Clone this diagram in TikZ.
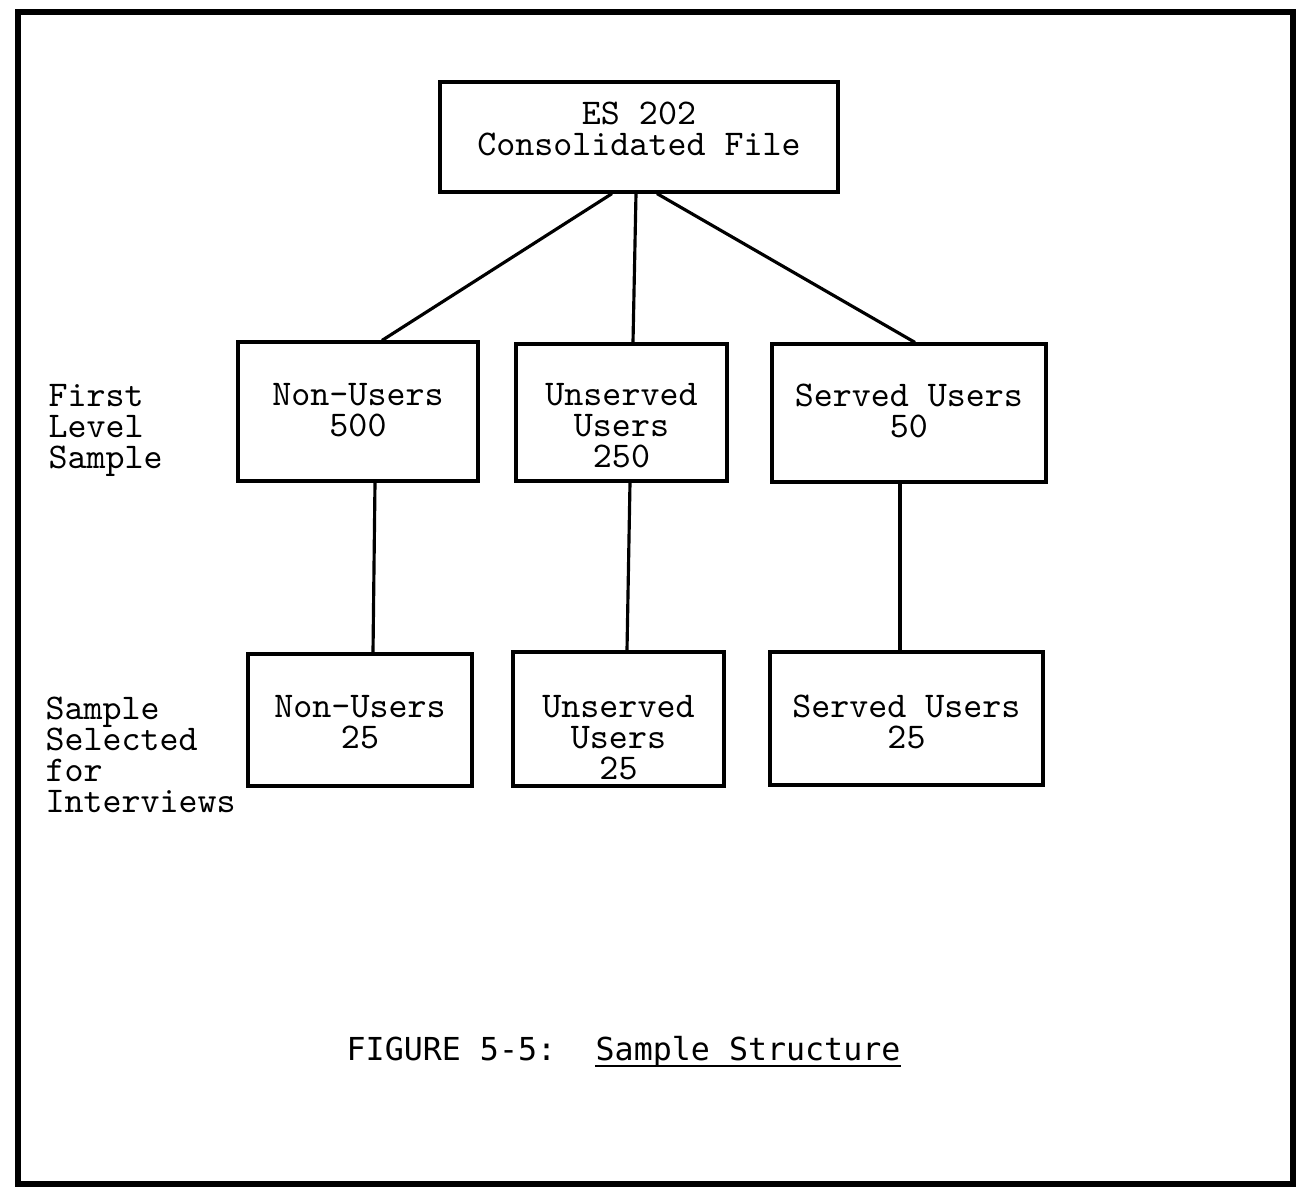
\documentclass[tikz,border=0pt]{standalone}
\usepackage{fontspec}
\newfontfamily\capfont{DejaVu Sans Mono}
\usetikzlibrary{calc,positioning}

\begin{document}
\begin{tikzpicture}[
		box/.style={draw, line width=0.9pt, inner sep=0pt},
		boxtext/.style={font=\ttfamily\fontsize{10.3}{8.8}\selectfont, align=center, inner sep=0pt},
		sidetext/.style={font=\ttfamily\fontsize{10.3}{8.8}\selectfont, align=left, inner sep=0pt, anchor=north west},
		link/.style={line width=0.9pt}
	]
			%%%%% START %%%%%
			\useasboundingbox (0, 0) rectangle (12.98, -11.88);
			\draw[line width=1.5pt] (0.18, -0.12) rectangle (12.93, -11.84);
			
			\node[box, minimum width=3.98cm, minimum height=1.10cm] (file) at (6.39, -1.37) {};
			\node[boxtext, below=0.21cm of file.north] (filetxt) {ES 202\\Consolidated File};
			
			\node[box, minimum width=2.40cm, minimum height=1.39cm] (nonusers) at (3.58, -4.115) {};
			\node[boxtext, below=0.42cm of nonusers.north] (nonuserstxt) {Non-Users\\500};
			\node[box, minimum width=2.11cm, minimum height=1.37cm] (unserved) at (6.215, -4.125) {};
			\node[boxtext, below=0.40cm of unserved.north] (unservedtxt) {Unserved\\Users\\250};
			\node[box, minimum width=2.74cm, minimum height=1.38cm] (served) at (9.09, -4.13) {};
			\node[boxtext, below=0.41cm of served.north] (servedtxt) {Served Users\\50};
			
			\node[box, minimum width=2.24cm, minimum height=1.32cm] (nonusersint) at (3.60, -7.20) {};
			\node[boxtext, below=0.42cm of nonusersint.north] (nonusersinttxt) {Non-Users\\25};
			\node[box, minimum width=2.11cm, minimum height=1.34cm] (unservedint) at (6.185, -7.19) {};
			\node[boxtext, below=0.44cm of unservedint.north] (unservedinttxt) {Unserved\\Users\\25};
			\node[box, minimum width=2.73cm, minimum height=1.33cm] (servedint) at (9.065, -7.185) {};
			\node[boxtext, below=0.44cm of servedint.north] (servedinttxt) {Served Users\\25};
			
			\node[sidetext] (firstlevel) at (0.48, -3.84) {First\\Level\\Sample};
			\node[sidetext] (selected) at (0.45, -6.96) {Sample\\Selected\\for\\Interviews};
			
			\draw[link] ([xshift=-0.27cm]file.south) -- ([xshift=0.24cm]nonusers.north);
			\draw[link] ([xshift=-0.03cm]file.south) -- ([xshift=0.115cm]unserved.north);
			\draw[link] ([xshift=0.18cm]file.south) -- ([xshift=0.06cm]served.north);
			
			\draw[link] ([xshift=0.17cm]nonusers.south) -- ([xshift=0.13cm]nonusersint.north);
			\draw[link] ([xshift=0.085cm]unserved.south) -- ([xshift=0.085cm]unservedint.north);
			\draw[link] ([xshift=-0.09cm]served.south) -- ([xshift=-0.065cm]servedint.north);
			
			\node[font=\capfont\fontsize{9}{11}\selectfont, inner sep=0pt, anchor=base west] (figno) at (3.46, -10.60) {FIGURE 5-5:};
			\node[font=\capfont\fontsize{9}{11}\selectfont, inner sep=0pt, anchor=base west] (figtitle) at (5.95, -10.60) {Sample Structure};
			\draw[line width=0.8pt] ([yshift=-0.06cm]figtitle.base west) -- ([yshift=-0.06cm]figtitle.base east);
			%%%%% END %%%%%
\end{tikzpicture}
\end{document}
